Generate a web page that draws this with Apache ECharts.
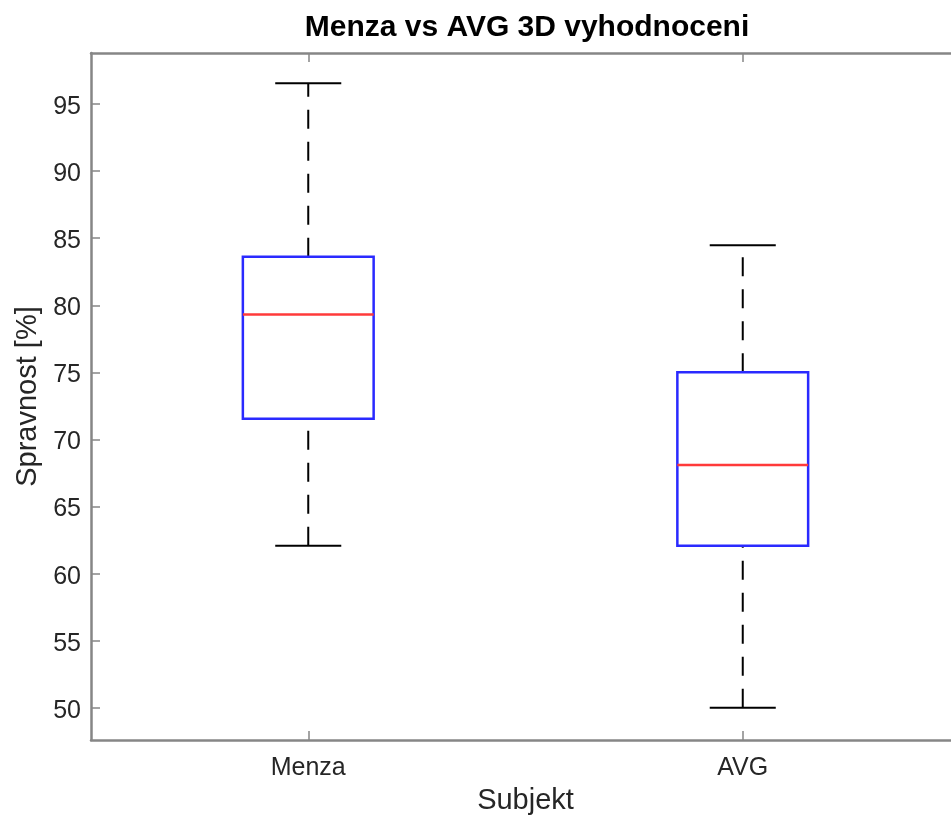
<!DOCTYPE html>
<html>
<head>
<meta charset="utf-8">
<script src="https://cdn.jsdelivr.net/npm/echarts@6/dist/echarts.min.js"></script>
<style>
html,body{margin:0;padding:0;background:#fff;overflow:hidden;width:951px;height:820px;}
#chart{width:972px;height:820px;}
</style>
</head>
<body>
<div id="chart"></div>
<script>
// Data
var categories = ['Menza', 'AVG'];
// [lower whisker, Q1, median, Q3, upper whisker]
var menzaStats = [62.07, 71.55, 79.31, 83.62, 96.55];
var avgStats = [50.0, 62.07, 68.10, 75.0, 84.48];
var titleText = 'Menza vs AVG 3D vyhodnoceni';
var xName = 'Subjekt';
var yName = 'Spravnost [%]';
var yMin = 47.6, yMax = 98.8;

var boxData = [
  [0].concat(menzaStats),
  [1].concat(avgStats)
];

var FONT = 'Liberation Sans, Arial, Helvetica, sans-serif';
var AXIS_GRAY = '#868686';
var LABEL_COLOR = '#262626';

function renderBox(params, api) {
  var x = api.value(0);
  var lo = api.coord([x, api.value(1)]);
  var q1 = api.coord([x, api.value(2)]);
  var md = api.coord([x, api.value(3)]);
  var q3 = api.coord([x, api.value(4)]);
  var hi = api.coord([x, api.value(5)]);
  var band = api.size([1, 0])[0];
  var bw = band * 0.301;
  var cw = band * 0.152;
  var cx = q1[0];
  var blackStyle = {stroke: '#000', lineWidth: 2, fill: null};
  var dashStyle = {stroke: '#000', lineWidth: 2, fill: null, lineDash: [19, 13]};
  return {
    type: 'group',
    children: [
      {type: 'line', shape: {x1: cx, y1: q3[1], x2: cx, y2: hi[1]}, style: dashStyle},
      {type: 'line', shape: {x1: cx, y1: lo[1], x2: cx, y2: q1[1]}, style: dashStyle},
      {type: 'line', shape: {x1: cx - cw / 2, y1: hi[1], x2: cx + cw / 2, y2: hi[1]}, style: blackStyle},
      {type: 'line', shape: {x1: cx - cw / 2, y1: lo[1], x2: cx + cw / 2, y2: lo[1]}, style: blackStyle},
      {type: 'rect', shape: {x: cx - bw / 2, y: q3[1], width: bw, height: q1[1] - q3[1]},
        style: {stroke: '#2a2aff', lineWidth: 2.5, fill: null}},
      {type: 'line', shape: {x1: cx - bw / 2, y1: md[1], x2: cx + bw / 2, y2: md[1]},
        style: {stroke: '#ff3a3a', lineWidth: 2.5, fill: null}}
    ]
  };
}

var chart = echarts.init(document.getElementById('chart'), null, {renderer: 'canvas'});
var axisLineStyle = {show: true, lineStyle: {color: AXIS_GRAY, width: 2.5}};
var tickStyle = {show: true, inside: true, length: 9, lineStyle: {color: AXIS_GRAY, width: 1.5}};

chart.setOption({
  backgroundColor: '#fff',
  animation: false,
  title: {
    text: titleText,
    left: 527,
    top: 13,
    padding: 0,
    textAlign: 'center',
    textStyle: {fontFamily: FONT, fontSize: 30, fontWeight: 'bold', color: '#000'}
  },
  grid: {left: 91, right: 12, top: 53, bottom: 79},
  xAxis: [
    {
      type: 'category', data: categories, position: 'bottom', boundaryGap: true,
      name: xName, nameLocation: 'middle', nameGap: 46,
      nameTextStyle: {fontFamily: FONT, fontSize: 29, color: LABEL_COLOR},
      axisLine: axisLineStyle,
      axisTick: Object.assign({alignWithLabel: true}, tickStyle),
      axisLabel: {fontFamily: FONT, fontSize: 25, color: LABEL_COLOR, margin: 16},
      splitLine: {show: false}
    },
    {
      type: 'category', data: categories, position: 'top', boundaryGap: true,
      axisLine: axisLineStyle,
      axisTick: Object.assign({alignWithLabel: true}, tickStyle),
      axisLabel: {show: false},
      splitLine: {show: false}
    }
  ],
  yAxis: [
    {
      type: 'value', min: yMin, max: yMax, splitNumber: 10, position: 'left',
      name: yName, nameLocation: 'middle', nameGap: 48,
      nameTextStyle: {fontFamily: FONT, fontSize: 29, color: LABEL_COLOR},
      axisLine: axisLineStyle,
      axisTick: tickStyle,
      axisLabel: {
        margin: 10,
        formatter: function (v) { return '{t|' + v + '}'; },
        rich: {t: {fontFamily: FONT, fontSize: 25, color: LABEL_COLOR, padding: [6, 0, 0, 0]}},
        showMinLabel: false, showMaxLabel: false
      },
      splitLine: {show: false}
    },
    {
      type: 'value', min: yMin, max: yMax, splitNumber: 10, position: 'right',
      axisLine: axisLineStyle,
      axisTick: tickStyle,
      axisLabel: {show: false},
      splitLine: {show: false}
    }
  ],
  series: [{
    type: 'custom',
    xAxisIndex: 0,
    yAxisIndex: 0,
    renderItem: renderBox,
    encode: {x: 0, y: [1, 2, 3, 4, 5]},
    data: boxData,
    clip: false
  }]
});
</script>
</body>
</html>
